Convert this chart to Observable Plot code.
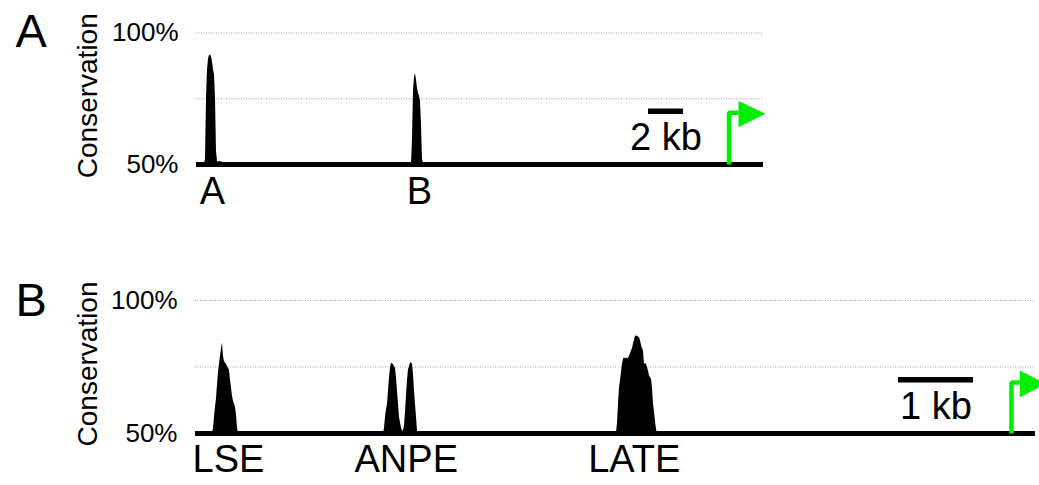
<!DOCTYPE html>
<html><head><meta charset="utf-8">
<script src="https://cdn.jsdelivr.net/npm/d3@7"></script>
<script src="https://cdn.jsdelivr.net/npm/@observablehq/plot@0.6"></script>
<style>
body{margin:0;background:#fff;}
#chart{width:1039px;height:485px;overflow:hidden;background:#fff;}
#chart svg{display:block;overflow:visible;}
</style></head><body><div id="chart"></div>
<script>
// ---- shared axis data ----
const yTicks = [50, 100];
const yTickLabels = ["50%", "100%"];
const gridLevels = [75, 100];
const axisTitle = "Conservation";

// ---- Panel A (positions in kb) ----
const panelA = "A";
const peakA_kb  = [0.457,0.514,0.571,0.629,0.686,0.743,0.800,0.857,0.914,0.971,1.029,1.086,1.143,1.200,1.314,1.429,1.543,1.657];
const peakA_pct = [50,52,75,86,90,91.5,91.5,91,89,86,84,75,55,51,51,51,50.5,50];
const peakB_kb  = [12.286,12.343,12.400,12.457,12.514,12.571,12.629,12.686,12.743,12.800,12.857,12.914,12.971];
const peakB_pct = [50,60,78,83,84.6,82,79,77,76,74,65,52,50];
const labelsA = ["A", "B"];
const labelsA_kb = [0.91, 12.74];
const scaleA_start = 25.83, scaleA_len = 2, scaleA_text = "2 kb";
const tssA_kb = [30.43, 30.43, 30.97];
const tssA_pct = [50, 69.7, 69.7];
const tssHeadA_kb = [30.97, 32.51, 30.97];
const tssHeadA_pct = [74.1, 69.3, 64.2];

// ---- Panel B (positions in kb) ----
const panelB = "B";
const lse_kb  = [0.227,0.240,0.253,0.267,0.280,0.293,0.307,0.320,0.333,0.347,0.360,0.373,0.387,0.400,0.413,0.427,0.440,0.453,0.467,0.480,0.493,0.507,0.520,0.533,0.547,0.560,0.573];
const lse_pct = [50,52,56,60,63,68,73,76,79,82,84,79,77,76.5,76,75,74.5,73.7,70,67,64,62,61,60,57,52,50];
const anpe_kb  = [2.507,2.520,2.533,2.547,2.560,2.573,2.587,2.600,2.613,2.627,2.640,2.653,2.667,2.680,2.693,2.707,2.720,2.733,2.747,2.760,2.773,2.787,2.800,2.813,2.827,2.840,2.853,2.867,2.880,2.893,2.907,2.920,2.933,2.947,2.960,2.973];
const anpe_pct = [50,52,56,59,61,66,71,74.5,76.5,76,76,75,74.5,70.8,66,61,56,54,52,51,50.8,53,58,64,70,74,75,76.5,76.5,76,72,66,61,56,51,50];
const late_kb  = [5.613,5.627,5.640,5.653,5.667,5.680,5.693,5.707,5.720,5.733,5.747,5.760,5.773,5.787,5.800,5.813,5.827,5.840,5.853,5.867,5.880,5.893,5.907,5.920,5.933,5.947,5.960,5.973,5.987,6.000,6.013,6.027,6.040,6.053,6.067,6.080,6.093,6.107,6.120,6.133,6.147,6.160];
const late_pct = [50,54,61,67,70,73,76,78,78.4,78,78.5,78,78.4,79,80,81,82,83.7,85,86.7,86.5,86.7,86.2,86,85,83,82,81,76,76.2,76,74.6,73.5,71.6,71,70.4,67,61,58,54.5,51.5,50];
const labelsB = ["LSE", "ANPE", "LATE"];
const labelsB_kb = [0.44, 2.81, 5.85];
const scaleB_start = 9.373, scaleB_len = 1, scaleB_text = "1 kb";
const tssB_kb = [10.88, 10.88, 10.99];
const tssB_pct = [50, 69.2, 69.2];
const tssHeadB_kb = [10.99, 11.34, 10.99];
const tssHeadB_pct = [73.7, 68.7, 63.6];

const rows = (xs, ys) => xs.map((x, i) => ({x, y: ys[i]}));
const GREEN = "#00ee00";
const FONT = "'Liberation Sans', Arial, Helvetica, sans-serif";

function panel(opts) {
  const {height, marginTop, marginBottom, marginLeft, marginRight, domain,
         letter, peaks, labels, labelsKb, scaleStart, scaleLen, scaleText,
         tssKb, tssPct, headKb, headPct, letterDx, letterDy, labelDy, titleDx} = opts;
  return Plot.plot({
    width: 1039, height, marginTop, marginBottom, marginLeft, marginRight,
    x: {domain, axis: null},
    y: {domain: [50, 100], axis: null},
    style: {fontFamily: FONT, background: "white", color: "black"},
    marks: [
      Plot.gridY(gridLevels, {stroke: "#9a9a9a", strokeOpacity: 1, strokeWidth: 1, strokeDasharray: "1,1.5"}),
      Plot.axisY(yTicks, {tickSize: 0, tickPadding: 18, fontSize: 26, label: null,
        tickFormat: d => yTickLabels[yTicks.indexOf(d)], fill: "black"}),
      Plot.text([axisTitle], {x: domain[0], y: 75, rotate: -90, dx: titleDx, dy: -3, fontSize: 28, fill: "black"}),
      Plot.text([letter], {frameAnchor: "top-left", textAnchor: "start", lineAnchor: "top", dx: letterDx, dy: letterDy, fontSize: 47, fill: "black"}),
      ...peaks.map(p => Plot.areaY(p, {x: "x", y1: 50, y2: "y", fill: "black", curve: "linear"})),
      Plot.ruleY([50], {stroke: "black", strokeWidth: 5}),
      Plot.text(labels, {x: labelsKb, y: 50, lineAnchor: "top", dy: labelDy, fontSize: 38, fill: "black"}),
      Plot.ruleY([70.2], {x1: scaleStart, x2: scaleStart + scaleLen, stroke: "black", strokeWidth: 5.5}),
      Plot.text([scaleText], {x: scaleStart + scaleLen / 2, y: 55.4, lineAnchor: "bottom", fontSize: 38, fill: "black"}),
      Plot.line(rows(tssKb, tssPct), {x: "x", y: "y", stroke: GREEN, strokeWidth: 4.5, strokeLinejoin: "miter", strokeLinecap: "butt"}),
      Plot.line(rows(headKb, headPct), {x: "x", y: "y", fill: GREEN, stroke: "none"})
    ]
  });
}

const root = document.getElementById("chart");
root.appendChild(panel({
  height: 240, marginTop: 32.5, marginBottom: 76, marginLeft: 196, marginRight: 276, domain: [0, 32.4],
  letter: panelA, peaks: [rows(peakA_kb, peakA_pct), rows(peakB_kb, peakB_pct)],
  labels: labelsA, labelsKb: labelsA_kb, scaleStart: scaleA_start, scaleLen: scaleA_len, scaleText: scaleA_text,
  tssKb: tssA_kb, tssPct: tssA_pct, headKb: tssHeadA_kb, headPct: tssHeadA_pct,
  letterDx: -181, letterDy: -19, labelDy: 13, titleDx: -108
}));
root.appendChild(panel({
  height: 245, marginTop: 60, marginBottom: 52, marginLeft: 195, marginRight: 4, domain: [0, 11.2],
  letter: panelB, peaks: [rows(lse_kb, lse_pct), rows(anpe_kb, anpe_pct), rows(late_kb, late_pct)],
  labels: labelsB, labelsKb: labelsB_kb, scaleStart: scaleB_start, scaleLen: scaleB_len, scaleText: scaleB_text,
  tssKb: tssB_kb, tssPct: tssB_pct, headKb: tssHeadB_kb, headPct: tssHeadB_pct,
  letterDx: -180, letterDy: -18, labelDy: 12, titleDx: -107
}));
</script></body></html>
